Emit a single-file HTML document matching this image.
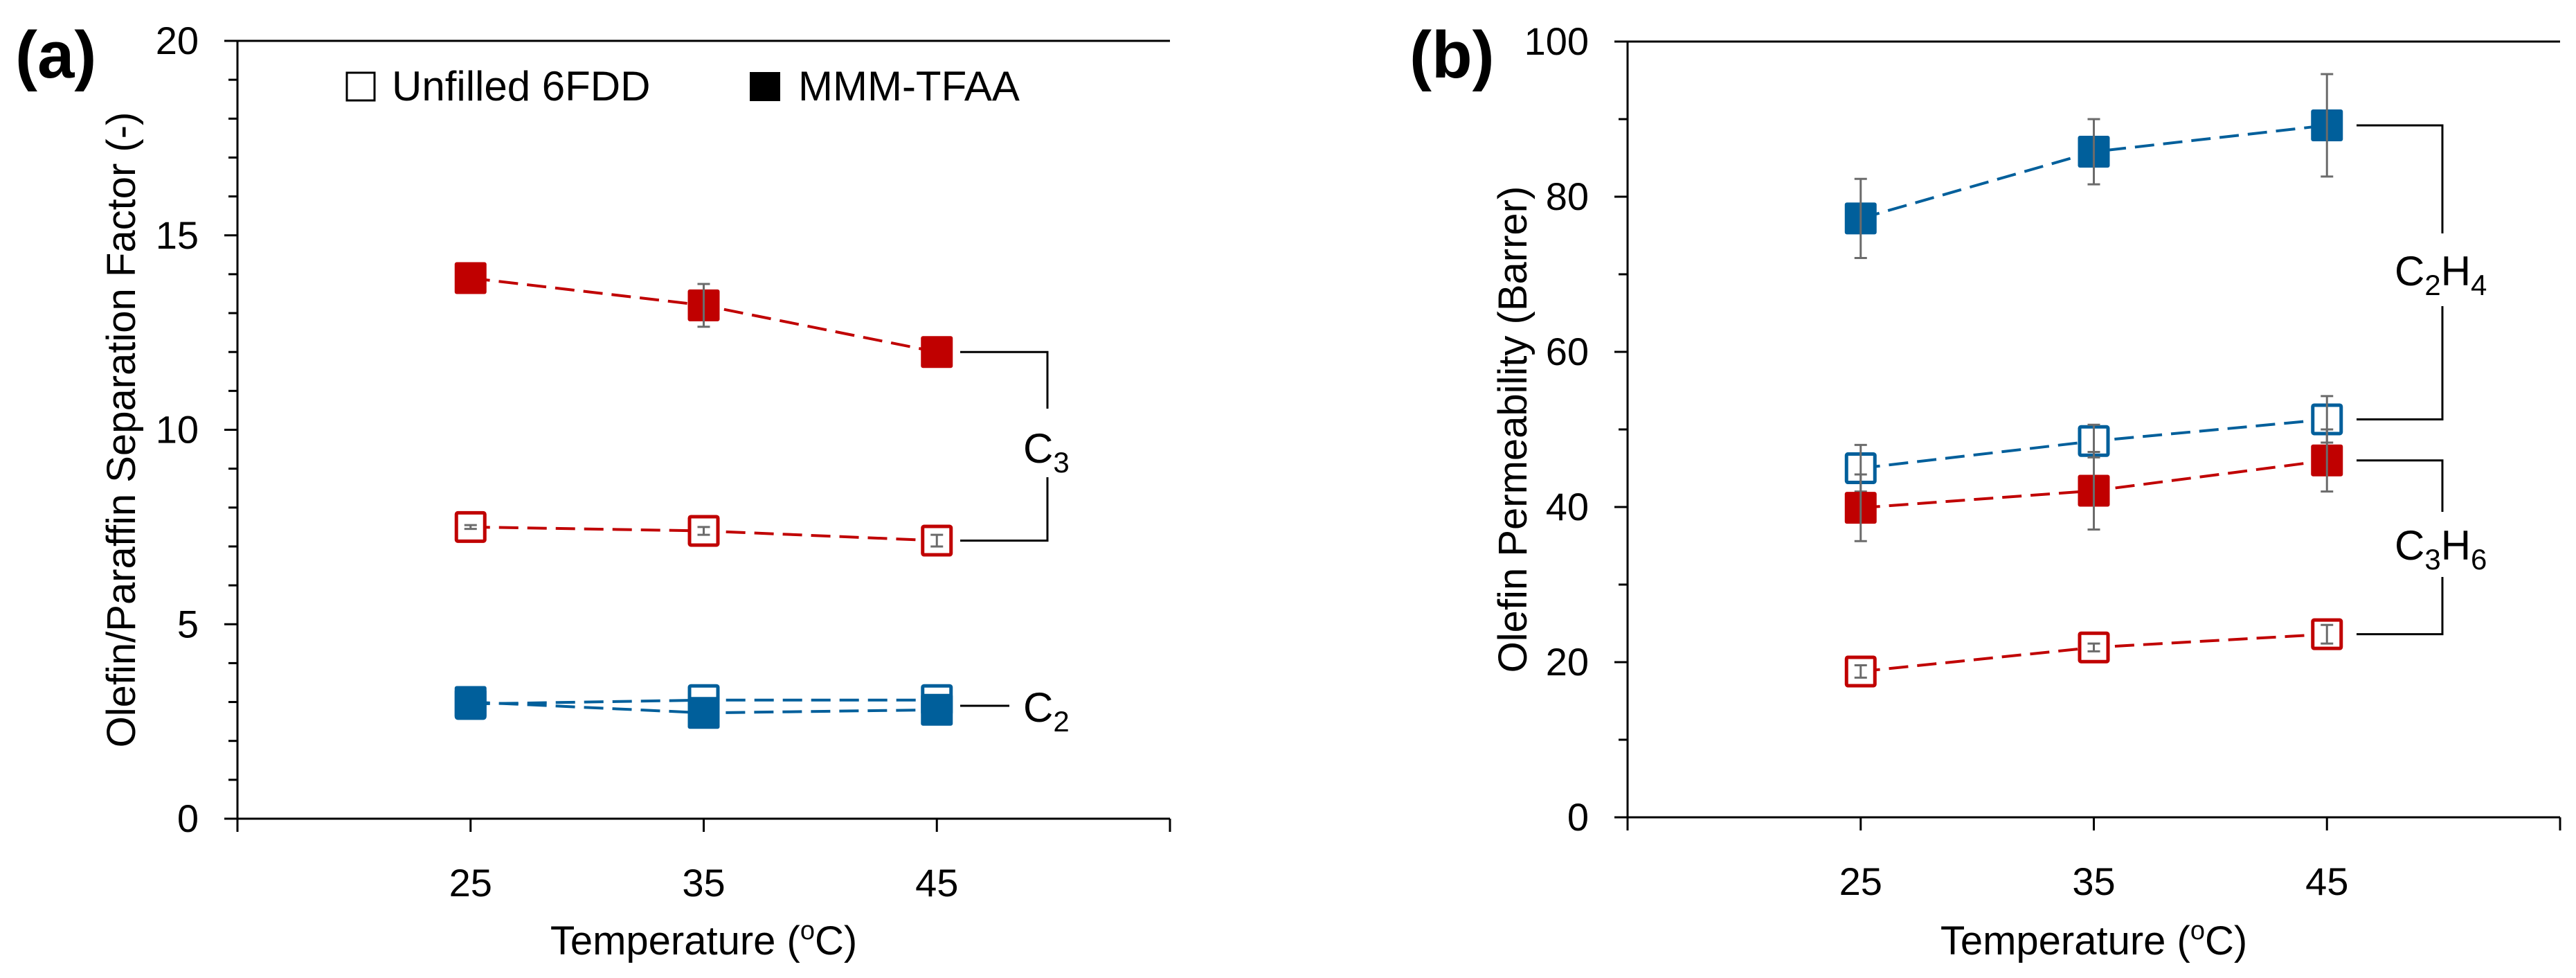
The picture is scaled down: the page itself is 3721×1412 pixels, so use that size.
<!DOCTYPE html>
<html><head><meta charset="utf-8"><style>
html,body{margin:0;padding:0;background:#fff;}
svg{display:block;font-family:"Liberation Sans",Arial,sans-serif;}
</style></head><body>
<svg id="chart" width="3721" height="1412" viewBox="0 0 3721 1412" xmlns="http://www.w3.org/2000/svg">
<g id="root"></g>
</svg>
<script>
const temps = [25, 35, 45];
// Panel (a): separation factor
const sepC3Filled = [13.9, 13.2, 12.0];
const sepC3FilledErr = [0, 0.55, 0];
const sepC3Open = [7.5, 7.4, 7.15];
const sepC3OpenErr = [0.05, 0.1, 0.15];
const sepC2Open = [2.95, 3.05, 3.05];
const sepC2Filled = [3.0, 2.72, 2.8];
const aYTicks = [0, 5, 10, 15, 20];
// Panel (b): permeability
const permC2H4Filled = [77.2, 85.8, 89.2];
const permC2H4FilledErr = [5.1, 4.2, 6.6];
const permC2H4Open = [45.0, 48.5, 51.3];
const permC2H4OpenErr = [3.0, 2.1, 3.0];
const permC3H6Filled = [39.9, 42.1, 46.0];
const permC3H6FilledErr = [4.3, 5.0, 4.0];
const permC3H6Open = [18.8, 21.9, 23.6];
const permC3H6OpenErr = [0.8, 0.5, 1.2];
const bYTicks = [0, 20, 40, 60, 80, 100];
const xTicks = [25, 35, 45];

const NS = 'http://www.w3.org/2000/svg';
const root = document.getElementById('root');
const RED = '#c00000', BLUE = '#005f9b', ERR = '#6b6b6b';
function mk(tag, attrs, parent, text) {
  const e = document.createElementNS(NS, tag);
  for (const k in attrs) e.setAttribute(k, attrs[k]);
  if (text !== undefined) e.textContent = text;
  (parent || root).appendChild(e);
  return e;
}

function panel(cfg) {
  const g = mk('g', {});
  
  
  const X = t => cfg.x0 + (t - 15) / 40 * (cfg.x1 - cfg.x0);
  const Y = v => cfg.yb - (v - 0) / cfg.ymax * (cfg.yb - cfg.yt);
  const ax = mk('g', {}, g);
  
  
  mk('line', {x1: cfg.x0, y1: cfg.yt, x2: cfg.x1, y2: cfg.yt, stroke: '#000', 'stroke-width': 3}, ax);
  mk('line', {x1: cfg.x0, y1: cfg.yt - 1.5, x2: cfg.x0, y2: cfg.yb + 19, stroke: '#000', 'stroke-width': 3}, ax);
  mk('line', {x1: cfg.x0 - 19, y1: cfg.yb, x2: cfg.x1, y2: cfg.yb, stroke: '#000', 'stroke-width': 3}, ax);
  [15, 55].concat(xTicks).forEach(t => {
    mk('line', {x1: X(t), y1: cfg.yb, x2: X(t), y2: cfg.yb + 19, stroke: '#000', 'stroke-width': 3}, ax);
  });
  xTicks.forEach(t => {
    const tl = mk('text', {x: X(t), y: cfg.yb + 112, 'font-size': 56, 'text-anchor': 'middle'}, ax, String(t));
    
    
  });
  for (let v = 0; v <= cfg.ymax + 1e-9; v += cfg.minor) {
    const major = cfg.yticks.some(m => Math.abs(m - v) < 1e-9);
    mk('line', {x1: cfg.x0 - (major ? 19 : 13), y1: Y(v), x2: cfg.x0, y2: Y(v), stroke: '#000', 'stroke-width': 3}, ax);
  }
  cfg.yticks.forEach(v => {
    const tl = mk('text', {x: cfg.x0 - 56, y: Y(v) + 19, 'font-size': 56, 'text-anchor': 'end'}, ax, String(v));
    
    
  });
  const xt = mk('text', {x: X(35), y: 1378, 'font-size': 58, 'text-anchor': 'middle'}, g);
  
  
  xt.appendChild(document.createTextNode('Temperature ('));
  mk('tspan', {'font-size': 38, dy: -22}, xt, 'o');
  mk('tspan', {dy: 22}, xt, 'C)');
  const yt = mk('text', {x: 0, y: 0, 'font-size': 58, 'text-anchor': 'middle', transform: `translate(${cfg.ytx},${(cfg.yt + cfg.yb) / 2}) rotate(-90)`}, g, cfg.ytitle);
  
  
  const pl = mk('text', {x: cfg.lx, y: 112, 'font-size': 96, 'font-weight': 'bold'}, g, cfg.label);
  
  
  return {g, X, Y};
}

function series(p, vals, errs, color, filled, name) {
  const s = mk('g', {}, p.g);
  
  
  let d = '';
  vals.forEach((v, i) => { d += (i ? 'L' : 'M') + p.X(temps[i]) + ' ' + p.Y(v); });
  mk('path', {d, fill: 'none', stroke: color, 'stroke-width': 4, 'stroke-dasharray': '28 13'}, s);
  vals.forEach((v, i) => {
    const x = p.X(temps[i]), y = p.Y(v);
    const sz = 46;
    if (filled) {
      const r = mk('rect', {x: x - sz / 2, y: y - sz / 2, width: sz, height: sz, rx: 3, fill: color}, s);
      
      
    } else {
      const r = mk('rect', {x: x - sz / 2 + 2.5, y: y - sz / 2 + 2.5, width: sz - 5, height: sz - 5, rx: 2, fill: '#fff', stroke: color, 'stroke-width': 5}, s);
      
      
    }
    if (errs && errs[i] > 0) {
      const e = errs[i];
      const eg = mk('g', {stroke: ERR, 'stroke-width': 3}, s);
      
      
      mk('line', {x1: x, y1: p.Y(v - e), x2: x, y2: p.Y(v + e)}, eg);
      mk('line', {x1: x - 9, y1: p.Y(v - e), x2: x + 9, y2: p.Y(v - e)}, eg);
      mk('line', {x1: x - 9, y1: p.Y(v + e), x2: x + 9, y2: p.Y(v + e)}, eg);
    }
  });
}

function formula(parent, x, y, parts, name) {
  const t = mk('text', {x, y, 'font-size': 60}, parent);
  
  
  parts.forEach(pp => {
    if (pp.sub) { mk('tspan', {'font-size': 42, dy: 14}, t, pp.t); }
    else { mk('tspan', {dy: pp.after ? -14 : 0}, t, pp.t); }
  });
}

function bracket(p, yTop, yBot, xs, xv, gapTop, gapBot, name) {
  const b = mk('g', {fill: 'none', stroke: '#000', 'stroke-width': 3}, p.g);
  
  
  mk('path', {d: `M${xs} ${yTop}H${xv}V${gapTop}M${xv} ${gapBot}V${yBot}H${xs}`}, b);
}

// Panel a
const pa = panel({name: 'panel-a-separation-factor', x0: 343, x1: 1690, yt: 59, yb: 1182, ymax: 20, minor: 1, yticks: aYTicks, ytitle: 'Olefin/Paraffin Separation Factor (-)', ytx: 195, label: '(a)', lx: 22});
series(pa, sepC3Filled, sepC3FilledErr, RED, true, 'series-c3-mmm-tfaa');
series(pa, sepC3Open, sepC3OpenErr, RED, false, 'series-c3-unfilled-6fdd');
series(pa, sepC2Open, null, BLUE, false, 'series-c2-unfilled-6fdd');
series(pa, sepC2Filled, null, BLUE, true, 'series-c2-mmm-tfaa');
bracket(pa, pa.Y(sepC3Filled[2]), pa.Y(sepC3Open[2]), 1387, 1513, 590, 689, 'c3-bracket');
formula(pa.g, 1478, 668, [{t: 'C'}, {t: '3', sub: true}], 'c3-label');
const c2l = mk('line', {x1: 1387, y1: 1019, x2: 1458, y2: 1019, stroke: '#000', 'stroke-width': 3}, pa.g);


formula(pa.g, 1478, 1042, [{t: 'C'}, {t: '2', sub: true}], 'c2-label');
const lg = mk('g', {}, pa.g);


const l1 = mk('g', {}, lg);


mk('rect', {x: 501, y: 105, width: 40, height: 40, fill: '#fff', stroke: '#000', 'stroke-width': 3}, l1);
mk('text', {x: 566, y: 145, 'font-size': 60}, l1, 'Unfilled 6FDD');
const l2 = mk('g', {}, lg);


mk('rect', {x: 1083, y: 104, width: 44, height: 42, fill: '#000'}, l2);
mk('text', {x: 1153, y: 145, 'font-size': 60}, l2, 'MMM-TFAA');

// Panel b
const pb = panel({name: 'panel-b-permeability', x0: 2351, x1: 3698, yt: 60, yb: 1180, ymax: 100, minor: 10, yticks: bYTicks, ytitle: 'Olefin Permeability (Barrer)', ytx: 2205, label: '(b)', lx: 2036});
series(pb, permC2H4Filled, permC2H4FilledErr, BLUE, true, 'series-c2h4-mmm-tfaa');
series(pb, permC2H4Open, permC2H4OpenErr, BLUE, false, 'series-c2h4-unfilled-6fdd');
series(pb, permC3H6Filled, permC3H6FilledErr, RED, true, 'series-c3h6-mmm-tfaa');
series(pb, permC3H6Open, permC3H6OpenErr, RED, false, 'series-c3h6-unfilled-6fdd');
bracket(pb, pb.Y(permC2H4Filled[2]), pb.Y(permC2H4Open[2]), 3404, 3528, 337, 442, 'c2h4-bracket');
formula(pb.g, 3459, 412, [{t: 'C'}, {t: '2', sub: true}, {t: 'H', after: true}, {t: '4', sub: true}], 'c2h4-label');
bracket(pb, pb.Y(permC3H6Filled[2]), pb.Y(permC3H6Open[2]), 3404, 3528, 739, 833, 'c3h6-bracket');
formula(pb.g, 3459, 808, [{t: 'C'}, {t: '3', sub: true}, {t: 'H', after: true}, {t: '6', sub: true}], 'c3h6-label');
</script>
</body></html>
